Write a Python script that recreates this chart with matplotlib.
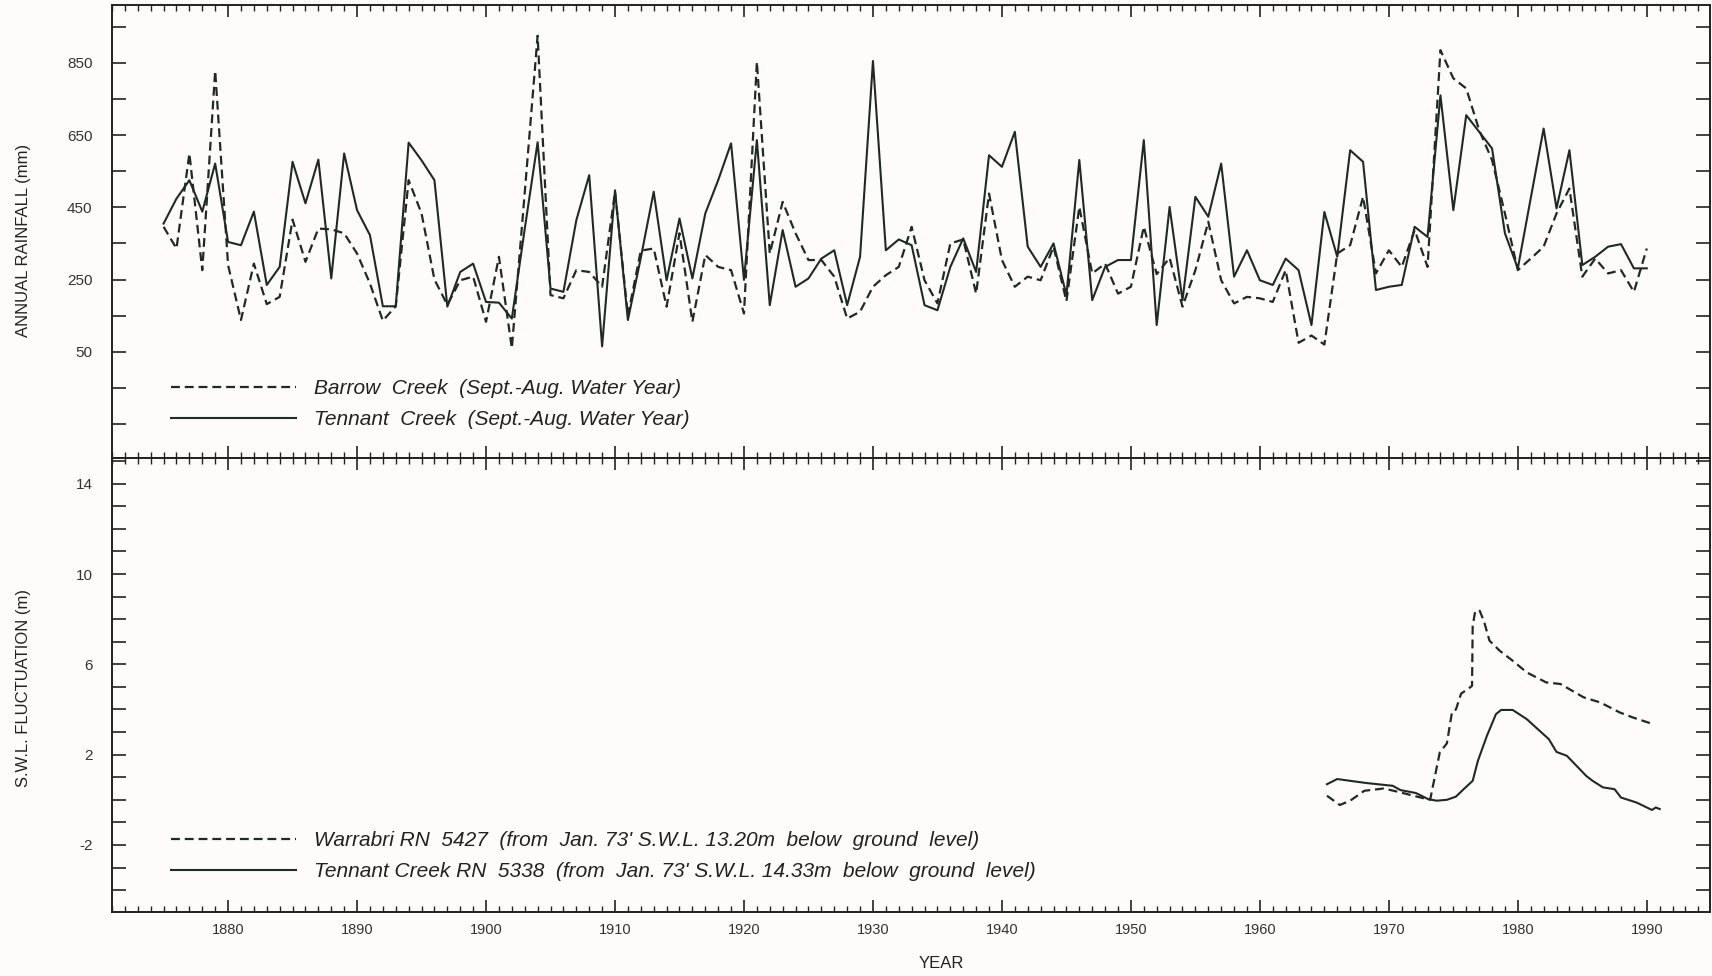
import matplotlib
matplotlib.use('Agg')
import matplotlib.pyplot as plt
from matplotlib.ticker import MultipleLocator, FuncFormatter

# ---------------------------------------------------
# annual rainfall (mm), Sept.-Aug. water years

years = list(range(1875, 1991))
barrow_creek = [396, 336, 599, 276, 828, 290, 138, 294, 182, 202,
                416, 299, 391, 389, 378, 322, 239, 136, 176, 525,
                433, 250, 180, 248, 258, 133, 313, 60, 490, 925,
                207, 198, 276, 271, 230, 493, 150, 330, 336, 175,
                378, 133, 318, 285, 276, 156, 853, 322, 465, 378,
                304, 304, 258, 142, 161, 230, 262, 285, 396, 248,
                184, 350, 361, 211, 488, 304, 230, 258, 248, 341,
                190, 451, 267, 294, 211, 230, 396, 265, 310, 175,
                276, 410, 248, 184, 202, 198, 188, 276, 75, 95,
                70, 322, 345, 479, 267, 331, 285, 387, 285, 885,
                807, 779, 664, 581, 433, 276, 308, 341, 433, 502,
                258, 308, 267, 276, 216, 336]
tennant_creek = [405, 474, 525, 438, 571, 354, 345, 438, 235, 285,
                 576, 461, 582, 253, 599, 442, 373, 176, 176, 629,
                 580, 525, 175, 271, 294, 188, 186, 142, 390, 630,
                 225, 216, 414, 539, 65, 497, 138, 310, 493, 248,
                 419, 253, 433, 525, 627, 249, 636, 179, 387, 230,
                 253, 308, 331, 179, 313, 855, 331, 361, 345, 179,
                 165, 285, 364, 271, 594, 562, 659, 341, 285, 350,
                 207, 581, 193, 285, 304, 304, 636, 124, 451, 193,
                 479, 424, 571, 258, 331, 248, 235, 308, 276, 124,
                 437, 313, 608, 576, 221, 230, 235, 396, 368, 760,
                 442, 705, 659, 613, 378, 281, 475, 668, 447, 608,
                 290, 313, 341, 348, 281, 281]

# S.W.L. fluctuation (m)
warrabri_t = [1965.2, 1966.2, 1967.0, 1968.1, 1969.6, 1970.9, 1971.9, 1973.2,
              1973.95, 1974.5, 1974.9, 1975.2, 1975.6, 1976.3, 1976.45, 1976.5,
              1976.7, 1977.05, 1977.4, 1977.8, 1978.6, 1979.6, 1980.7, 1982.2,
              1983.3, 1984.0, 1985.1, 1986.4, 1987.9, 1988.9, 1990.5]
warrabri_swl = [0.18, -0.23, -0.04, 0.40, 0.50, 0.33, 0.18, 0.0,
                2.1, 2.5, 3.9, 4.0, 4.7, 4.98, 5.05, 7.7,
                8.37, 8.37, 7.86, 7.05, 6.6, 6.16, 5.64, 5.2,
                5.13, 4.9, 4.54, 4.31, 3.87, 3.65, 3.35]
tennant_bore_t = [1965.2, 1966.0, 1967.0, 1968.3, 1970.3, 1970.9, 1972.1, 1973.05,
                  1973.7, 1974.5, 1975.2, 1975.8, 1976.5, 1976.9, 1977.6, 1978.3,
                  1978.7, 1979.6, 1980.7, 1981.7, 1982.4, 1983.0, 1983.8, 1985.3,
                  1985.8, 1986.6, 1987.5, 1988.0, 1989.2, 1990.4, 1990.7, 1991.0]
tennant_bore_swl = [0.69, 0.92, 0.84, 0.74, 0.62, 0.43, 0.30, 0.03,
                    -0.04, 0.0, 0.14, 0.47, 0.84, 1.72, 2.83, 3.79,
                    3.98, 3.98, 3.57, 3.05, 2.69, 2.12, 1.95, 1.06,
                    0.84, 0.55, 0.47, 0.10, -0.12, -0.45, -0.34, -0.41]

rain_labels = [850, 650, 450, 250, 50]
swl_labels = [14, 10, 6, 2, -2]

label_1 = 'Barrow  Creek  (Sept.-Aug. Water Year)'
label_2 = 'Tennant  Creek  (Sept.-Aug. Water Year)'
label_3 = "Warrabri RN  5427  (from  Jan. 73' S.W.L. 13.20m  below  ground  level)"
label_4 = "Tennant Creek RN  5338  (from  Jan. 73' S.W.L. 14.33m  below  ground  level)"

# ---------------------------------------------------

ink = '#1f2a26'
paper = '#fdfcfa'
plt.rcParams['font.family'] = ['Liberation Sans', 'DejaVu Sans']

W, H = 1712, 976
fig = plt.figure(figsize=(W / 100, H / 100), dpi=100, facecolor=paper)
ax1 = fig.add_axes([112 / W, 1 - 458 / H, 1598 / W, 453 / H], facecolor=paper)
ax2 = fig.add_axes([112 / W, 1 - 912 / H, 1598 / W, 454 / H], facecolor=paper)

ax1.plot(years, barrow_creek, color=ink, lw=1.6, ls=(0, (4, 2.2)), label=label_1)
ax1.plot(years, tennant_creek, color=ink, lw=1.5, label=label_2)
ax2.plot(warrabri_t, warrabri_swl, color=ink, lw=1.6, ls=(0, (4, 2.2)), label=label_3)
ax2.plot(tennant_bore_t, tennant_bore_swl, color=ink, lw=1.5, label=label_4)

ax1.set_xlim(1871, 1994.9)
ax2.set_xlim(1871, 1994.9)
ax1.set_ylim(-244, 1010)
ax2.set_ylim(-4.97, 15.14)

for ax in (ax1, ax2):
    for s in ax.spines.values():
        s.set_linewidth(1.4)
        s.set_color('#222222')
    ax.xaxis.set_major_locator(MultipleLocator(10))
    ax.xaxis.set_minor_locator(MultipleLocator(1))
    ax.tick_params(axis='x', which='major', direction='in', top=True, bottom=True,
                   length=8.5, width=1.2, color='#222222', labelsize=10.5, pad=8,
                   labelcolor='#333333')
    ax.tick_params(axis='x', which='minor', direction='in', top=True, bottom=True,
                   length=4, width=1.0, color='#222222')
    ax.tick_params(axis='y', which='major', direction='in', left=True, right=True,
                   length=10, width=1.2, color='#222222', labelsize=11, pad=14,
                   labelcolor='#333333')

ax1.yaxis.set_major_locator(MultipleLocator(100, offset=50))
ax1.yaxis.set_major_formatter(FuncFormatter(
    lambda v, p: '%d' % round(v) if round(v) in rain_labels else ''))
ax1.tick_params(axis='x', labelbottom=False)

ax2.yaxis.set_major_locator(MultipleLocator(1))
ax2.yaxis.set_major_formatter(FuncFormatter(
    lambda v, p: '%d' % round(v) if round(v) in swl_labels else ''))

leg_font = dict(family=['Liberation Sans', 'DejaVu Sans'], style='italic', size=15)
for ax, y in ((ax1, 0.119), (ax2, 0.123)):
    ax.legend(loc='center left', bbox_to_anchor=(0.037, y), frameon=False,
              prop=leg_font, handlelength=6.0, handletextpad=0.85,
              labelspacing=0.58, borderpad=0, borderaxespad=0)
    for t in ax.get_legend().get_texts():
        t.set_color('#222222')

fig.text(24 / W, 1 - 240 / H, 'ANNUAL RAINFALL (mm)', rotation=90, ha='center',
         va='center', fontsize=12, color='#222222')
fig.text(24 / W, 1 - 688 / H, 'S.W.L. FLUCTUATION (m)', rotation=90, ha='center',
         va='center', fontsize=12, color='#222222')
fig.text(941 / W, 1 - 964 / H, 'YEAR', ha='center', va='center',
         fontsize=12, color='#222222')

fig.savefig('out.png', dpi=100, facecolor=paper)
